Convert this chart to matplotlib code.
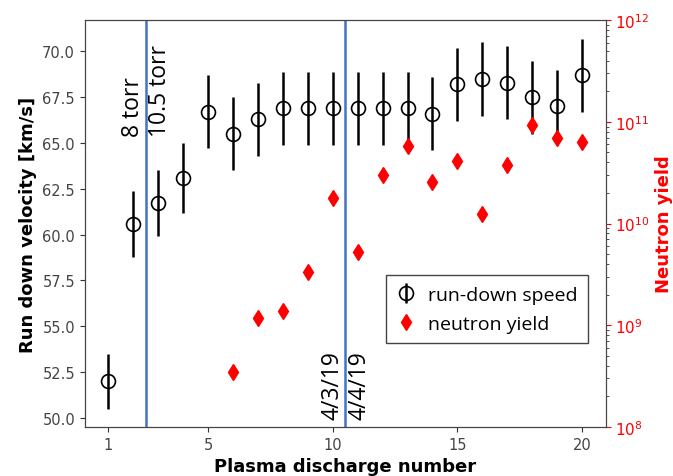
import matplotlib.pyplot as plt

# discharge number
shot = [1, 2, 3, 4, 5, 6, 7, 8, 9, 10, 11, 12, 13, 14, 15, 16, 17, 18, 19, 20]
# run-down speed [km/s] and its error
speed = [52.0, 60.6, 61.7, 63.1, 66.7, 65.5, 66.3, 66.9, 66.9, 66.9,
         66.9, 66.9, 66.9, 66.6, 68.2, 68.5, 68.3, 67.5, 67.0, 68.7]
speed_err = [1.5, 1.8, 1.8, 1.9, 2.0, 2.0, 2.0, 2.0, 2.0, 2.0,
             2.0, 2.0, 2.0, 2.0, 2.0, 2.0, 2.0, 2.0, 2.0, 2.0]
# neutron yield (shots 6-20)
n_shot = [6, 7, 8, 9, 10, 11, 12, 13, 14, 15, 16, 17, 18, 19, 20]
n_yield = [3.5e8, 1.18e9, 1.37e9, 3.36e9, 1.78e10, 5.2e9, 3.0e10, 5.8e10,
           2.56e10, 4.1e10, 1.23e10, 3.76e10, 9.4e10, 6.9e10, 6.4e10]

fig = plt.figure(figsize=(6.73, 4.77), dpi=100)
ax = fig.add_axes([0.126, 0.1027, 0.774, 0.853])

eb = ax.errorbar(shot, speed, yerr=speed_err, fmt='o', mfc='none', mec='black',
                 ms=10, mew=1.2, ecolor='black', elinewidth=1.8, capsize=0,
                 label='run-down speed')
ax.axvline(2.5, color='#4472C4', lw=1.8)
ax.axvline(10.5, color='#4472C4', lw=1.8)

txt = dict(rotation=90, fontsize=16.5, family='Open Sans', va='bottom')
ax.text(2.45, 65.4, '8 torr', ha='right', **txt)
ax.text(2.6, 65.4, '10.5 torr', ha='left', **txt)
ax.text(10.45, 49.95, '4/3/19', ha='right', **txt)
ax.text(10.6, 49.95, '4/4/19', ha='left', **txt)

ax.set_xticks([1, 5, 10, 15, 20])
ax.set_xlabel('Plasma discharge number', fontsize=13, fontweight='bold')
ax.set_ylabel('Run down velocity [km/s]', fontsize=13, fontweight='bold')
ax.tick_params(labelsize=10.5, colors='#333333')
ax.tick_params(labelcolor='#444444')

ax2 = ax.twinx()
sc, = ax2.plot(n_shot, n_yield, 'd', color='red', ms=8, label='neutron yield')
ax2.set_yscale('log')
ax2.set_ylim(1e8, 1e12)
ax2.set_ylabel('Neutron yield', color='red', fontsize=13, fontweight='bold')
ax2.tick_params(axis='y', which='major', colors='red', labelsize=11)
ax2.tick_params(axis='y', which='minor', colors='#333333')

for a in (ax, ax2):
    for s in a.spines.values():
        s.set_color('#444444')

leg = ax2.legend([eb, sc], ['run-down speed', 'neutron yield'],
                 loc='lower left', bbox_to_anchor=(0.578, 0.206),
                 borderaxespad=0, fancybox=False, edgecolor='#444444',
                 framealpha=1, prop={'family': 'Open Sans', 'size': 14},
                 handletextpad=0.6, handlelength=1.0, borderpad=0.55,
                 labelspacing=0.55)

fig.savefig('out.png', dpi=100)
